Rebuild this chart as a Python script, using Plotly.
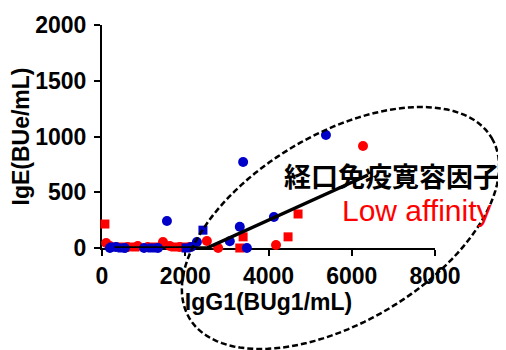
import math
import plotly.graph_objects as go

# ---- data ----
red_circle_x = [100, 190, 620, 860, 1100, 1465, 1630, 1870, 2110, 2520, 2790, 4180, 6270]
red_circle_y = [45, 18, 9, 18, 9, 54, 18, 9, 9, 63, 0, 27, 915]

red_square_x = [70, 480, 790, 1270, 1750, 1990, 3310, 3390, 4470, 4710]
red_square_y = [215, 9, 9, 9, 9, 9, 0, 100, 100, 305]

blue_circle_x = [190, 340, 550, 1010, 1345, 1560, 2140, 2280, 3070, 3310, 3390, 3480, 4130, 5380]
blue_circle_y = [0, 9, 0, 0, 0, 242, 9, 54, 60, 190, 771, 0, 278, 1013]

blue_square_x = [260, 480, 1200, 2020, 2425]
blue_square_y = [9, 0, 0, 0, 160]

fit_x = [300, 2520, 6390]
fit_y = [0, 0, 655]

x_ticks = [0, 2000, 4000, 6000, 8000]
y_ticks = [0, 500, 1000, 1500, 2000]

label_main = "経口免疫寛容因子"
label_sub = "Low affinity"

# ---- figure ----
OFF = 8  # page body margin
W, H = 506 - OFF, 350 - OFF
ML, MR, MT, MB = 102 - OFF, 71, 25 - OFF, 102
PW, PH = W - ML - MR, H - MT - MB
PX0, PY0 = ML + OFF, MT + OFF + PH  # page pixel of the plot origin

RED = "#FF0000"
BLUE = "#0000C8"

fig = go.Figure()
fig.add_trace(go.Scatter(x=red_circle_x, y=red_circle_y, mode="markers", cliponaxis=False,
                         marker=dict(symbol="circle", size=10, color=RED), showlegend=False))
fig.add_trace(go.Scatter(x=red_square_x, y=red_square_y, mode="markers", cliponaxis=False,
                         marker=dict(symbol="square", size=9, color=RED), showlegend=False))
fig.add_trace(go.Scatter(x=blue_circle_x, y=blue_circle_y, mode="markers", cliponaxis=False,
                         marker=dict(symbol="circle", size=10, color=BLUE), showlegend=False))
fig.add_trace(go.Scatter(x=blue_square_x, y=blue_square_y, mode="markers", cliponaxis=False,
                         marker=dict(symbol="square", size=9, color=BLUE), showlegend=False))
fig.add_trace(go.Scatter(x=fit_x, y=fit_y, mode="lines", cliponaxis=False,
                         line=dict(color="black", width=3.5), showlegend=False))


def to_paper(px, py):
    return (px - PX0) / PW, (PY0 - py) / PH


# dashed ellipse (decoration), defined in page pixels then mapped to paper
cx, cy, a, b, th = 340.5, 228.0, 176.0, 94.0, math.radians(30.8)
pts = []
for i in range(121):
    t = 2 * math.pi * i / 120
    px = cx + a * math.cos(t) * math.cos(th) + b * math.sin(t) * math.sin(th)
    py = cy - a * math.cos(t) * math.sin(th) + b * math.sin(t) * math.cos(th)
    pts.append(to_paper(px, py))
path = "M " + " L ".join(f"{x:.4f},{y:.4f}" for x, y in pts) + " Z"
fig.add_shape(type="path", path=path, xref="paper", yref="paper",
              line=dict(color="black", width=2.5, dash="6px,3px"), layer="above")

tick_font = dict(family="Liberation Sans, Arial", size=23, color="black")
axis_common = dict(showline=True, linecolor="black", linewidth=2, ticks="outside",
                   ticklen=6, tickwidth=2, tickcolor="black", showgrid=False,
                   zeroline=False, tickfont=tick_font, layer="below traces")

fig.update_xaxes(range=[0, 8000], tickvals=x_ticks, ticktext=[f"<b>{v}</b>" for v in x_ticks],
                 title=dict(text="<b>IgG1(BUg1/mL)</b>", font=tick_font, standoff=6),
                 **axis_common)
fig.update_yaxes(range=[0, 2000], tickvals=y_ticks, ticktext=[f"<b>{v}</b>" for v in y_ticks],
                 title=dict(text="<b>IgE(BUe/mL)</b>", font=tick_font, standoff=6),
                 ticklabelstandoff=3, **axis_common)

x1, y1 = to_paper(283, 175)
fig.add_annotation(text=f"<b>{label_main}</b>", xref="paper", yref="paper",
                   x=x1, y=y1, xanchor="left", yanchor="middle", borderpad=0,
                   showarrow=False, font=dict(family="Noto Sans CJK JP", size=27, color="black"))
x2, y2 = to_paper(341, 210)
fig.add_annotation(text=label_sub, xref="paper", yref="paper",
                   x=x2, y=y2, xanchor="left", yanchor="middle", borderpad=0,
                   showarrow=False, font=dict(family="Liberation Sans, Arial", size=30, color=RED))

fig.update_layout(width=W, height=H, margin=dict(l=ML, r=MR, t=MT, b=MB, autoexpand=False),
                  plot_bgcolor="white", paper_bgcolor="white")

fig.write_html("out.html")
